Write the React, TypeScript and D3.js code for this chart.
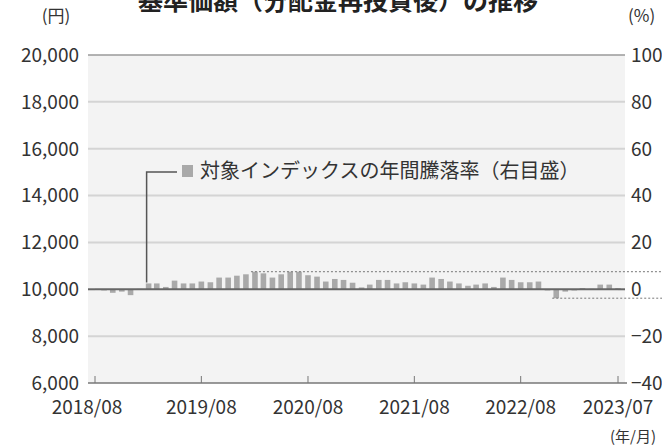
import * as d3 from "d3";

// categories: monthly from 2018/08 to 2023/07
const startMonth = new Date(2018, 7, 1);
const endMonth = new Date(2023, 6, 1);
const months = d3.timeMonth.range(startMonth, d3.timeMonth.offset(endMonth, 1));

// 対象インデックスの年間騰落率 (%)
const annualReturn = [
  -0.3, -0.5, -1.5, -1.0, -2.5, 0.2, 2.5, 2.5, 1.0, 3.7, 2.5, 2.5,
  3.3, 3.0, 5.0, 5.0, 5.8, 6.4, 7.5, 6.8, 5.0, 6.4, 7.5, 7.5,
  6.0, 5.4, 3.3, 4.4, 4.0, 2.8, 0.8, 2.0, 4.0, 4.0, 2.5, 3.0,
  2.5, 2.0, 5.0, 4.4, 3.3, 2.5, 1.5, 2.0, 2.5, 1.0, 5.0, 4.0,
  3.0, 3.0, 3.3, -0.5, -3.8, -1.0, -0.5, 0.5, 0.2, 2.0, 2.0, 0.5,
];

// 基準価額 (円)
const navValues = [
  10000, 10000, 10000, 10000, 10000, 10000, 10000, 10000, 10000, 10000, 10000, 10000,
  10000, 10000, 10000, 10000, 10000, 10000, 10000, 10000, 10000, 10000, 10000, 10000,
  10000, 10000, 10000, 10000, 10000, 10000, 10000, 10000, 10000, 10000, 10000, 10000,
  10000, 10000, 10000, 10000, 10000, 10000, 10000, 10000, 10000, 10000, 10000, 10000,
  10000, 10000, 10000, 10000, 10000, 10000, 10000, 10000, 10000, 10000, 10000, 10000,
];

const leftTicks = [6000, 8000, 10000, 12000, 14000, 16000, 18000, 20000];
const rightTicks = [-40, -20, 0, 20, 40, 60, 80, 100];
const xTickDates = [
  new Date(2018, 7, 1),
  new Date(2019, 7, 1),
  new Date(2020, 7, 1),
  new Date(2021, 7, 1),
  new Date(2022, 7, 1),
  new Date(2023, 6, 1),
];
const xTickLabels = ["2018/08", "2019/08", "2020/08", "2021/08", "2022/08", "2023/07"];

const W = 662;
const H = 446;
const plot = { left: 88, right: 625, top: 55, bottom: 383 };
const font = "'Noto Sans CJK JP', 'Noto Sans', sans-serif";

const App = () => {
  const x = d3.scaleTime().domain([startMonth, endMonth]).range([95, 618]);
  const yL = d3.scaleLinear().domain([6000, 20000]).range([plot.bottom, plot.top]);
  const yR = d3.scaleLinear().domain([-40, 100]).range([plot.bottom, plot.top]);
  const barW = 5.6;

  const line = d3
    .line<number>()
    .x((_, i) => x(months[i]))
    .y((d) => yL(d));

  const maxR = d3.max(annualReturn) as number;
  const minR = d3.min(annualReturn) as number;
  const maxIdx = annualReturn.indexOf(maxR);
  const minIdx = annualReturn.indexOf(minR);
  const leaderIdx = 6;

  return (
    <svg
      width={W}
      height={H}
      style={{ position: "absolute", left: 0, top: 0, background: "#fff" }}
      fontFamily={font}
    >
      {/* title, cropped at the top as in the source */}
      <text x={338} y={10} textAnchor="middle" fontSize={25} fontWeight="bold" fill="#222">
        基準価額（分配金再投資後）の推移
      </text>

      <rect
        x={plot.left}
        y={plot.top}
        width={plot.right - plot.left}
        height={plot.bottom - plot.top}
        fill="#f3f3f3"
      />

      {/* grid */}
      {leftTicks.map((t) =>
        t === 6000 || t === 10000 ? null : (
          <line
            key={t}
            x1={plot.left}
            x2={plot.right}
            y1={yL(t)}
            y2={yL(t)}
            stroke={t === 20000 ? "#9a9a9a" : "#d4d4d4"}
            strokeWidth={t === 20000 ? 1.5 : 2}
          />
        )
      )}

      {/* left labels */}
      <text x={56} y={22} textAnchor="middle" fontSize={17} fill="#333">
        (円)
      </text>
      {leftTicks.map((t) => (
        <text key={t} x={79} y={yL(t)} dy="0.36em" textAnchor="end" fontSize={19} fill="#333">
          {d3.format(",")(t)}
        </text>
      ))}

      {/* right labels */}
      <text x={628} y={22} fontSize={17} fill="#333">
        (%)
      </text>
      {rightTicks.map((t) => (
        <text key={t} x={631} y={yR(t)} dy="0.36em" fontSize={19} fill="#333">
          {t < 0 ? "−" + Math.abs(t) : t}
        </text>
      ))}

      {/* bars */}
      {annualReturn.map((v, i) => (
        <rect
          key={i}
          x={x(months[i]) - barW / 2}
          y={v >= 0 ? yR(v) : yR(0)}
          width={barW}
          height={Math.abs(yR(v) - yR(0))}
          fill="#a9a9a9"
        />
      ))}

      {/* max / min dotted guides */}
      <line
        x1={x(months[maxIdx]) - 4}
        x2={W}
        y1={yR(maxR)}
        y2={yR(maxR)}
        stroke="#777"
        strokeWidth={1}
        strokeDasharray="2,2"
      />
      <line
        x1={x(months[minIdx]) - 4}
        x2={W}
        y1={yR(minR)}
        y2={yR(minR)}
        stroke="#777"
        strokeWidth={1}
        strokeDasharray="2,2"
      />

      {/* NAV line */}
      <path
        d={line(navValues) as string}
        fill="none"
        stroke="#666"
        strokeWidth={2}
      />
      <line x1={plot.left} x2={x(months[0])} y1={yL(10000)} y2={yL(10000)} stroke="#666" strokeWidth={2} />
      <line x1={x(months[months.length - 1])} x2={plot.right} y1={yL(10000)} y2={yL(10000)} stroke="#666" strokeWidth={2} />

      {/* x axis */}
      <line x1={plot.left} x2={plot.right + 2} y1={plot.bottom} y2={plot.bottom} stroke="#777" strokeWidth={1.5} />
      {xTickDates.map((d, i) => (
        <g key={i}>
          <line x1={x(d)} x2={x(d)} y1={plot.bottom} y2={plot.bottom - 7} stroke="#777" strokeWidth={1} />
          <text
            x={i === 0 ? x(d) - 8 : x(d)}
            y={plot.bottom + 31}
            textAnchor="middle"
            fontSize={19}
            fill="#333"
          >
            {xTickLabels[i]}
          </text>
        </g>
      ))}
      <text x={656} y={442} textAnchor="end" fontSize={15} fill="#333">
        (年/月)
      </text>

      {/* legend with leader */}
      <path
        d={`M${x(months[leaderIdx]) - 2},${yR(annualReturn[leaderIdx]) - 1}V172H177`}
        fill="none"
        stroke="#555"
        strokeWidth={1.5}
      />
      <rect x={182} y={165} width={11} height={12} fill="#a9a9a9" />
      <text x={200} y={171} dy="0.36em" fontSize={20} fill="#333">
        対象インデックスの年間騰落率（右目盛）
      </text>
    </svg>
  );
};

export default App;
